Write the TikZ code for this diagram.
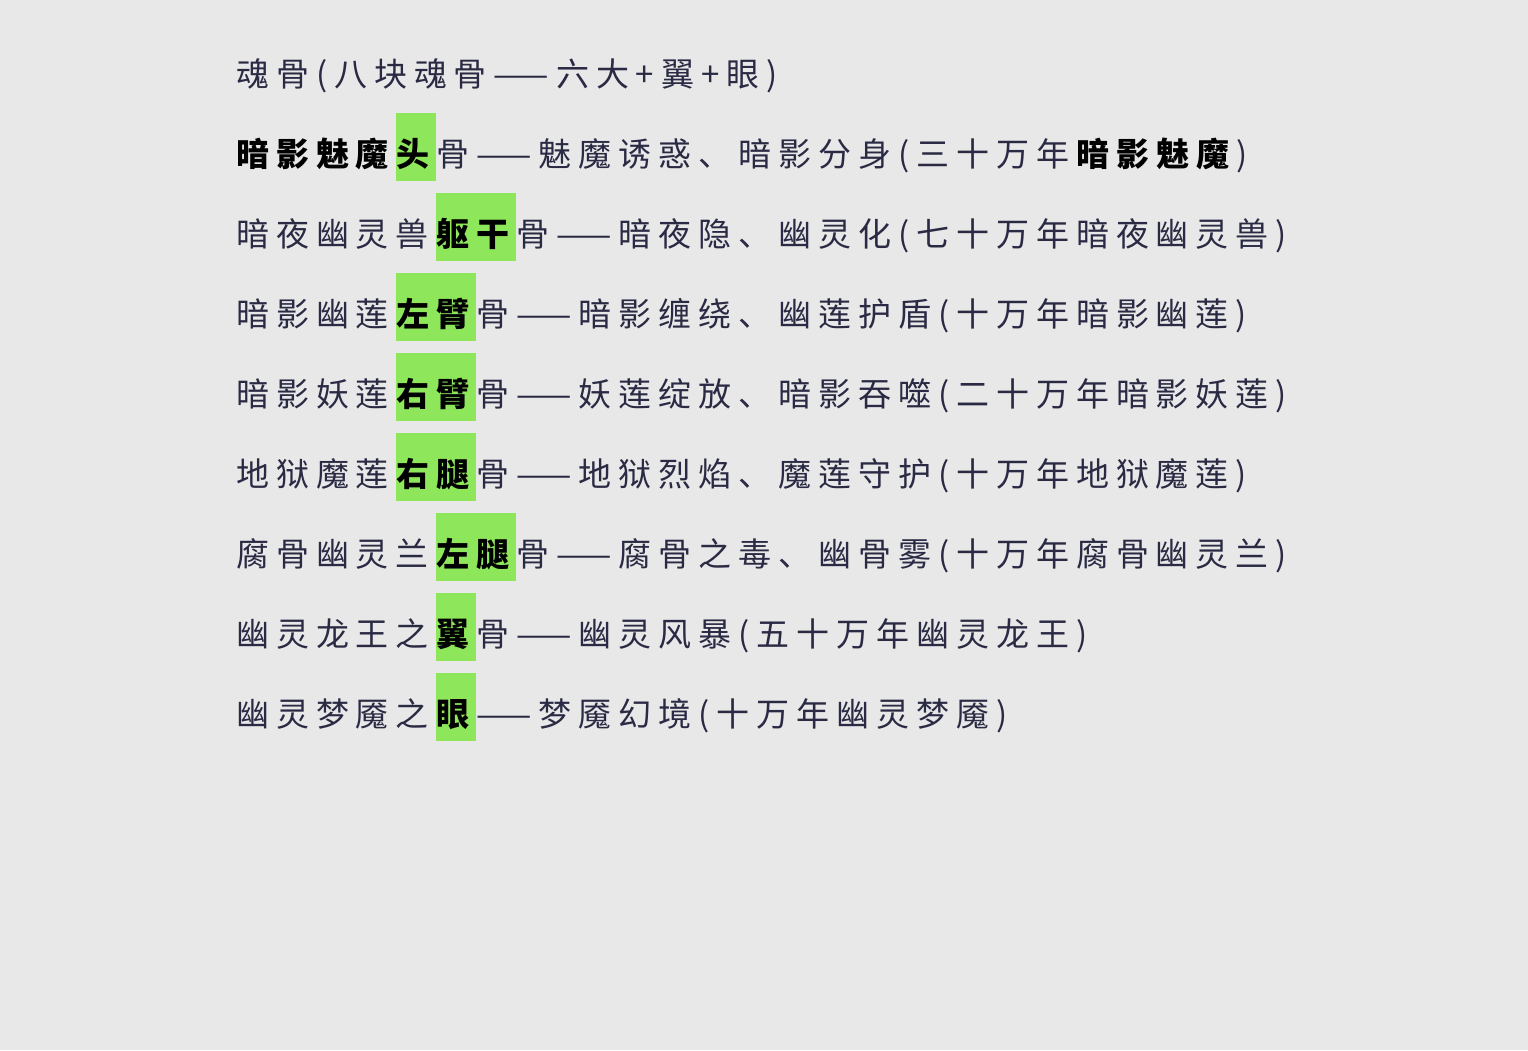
\documentclass[tikz,border=0pt]{standalone}
\usepackage{fontspec}
\setmainfont{Noto Sans CJK SC}[LetterSpace=21]
\usetikzlibrary{positioning}
\definecolor{bgcol}{HTML}{E8E8E8}
\definecolor{inkcol}{HTML}{2A2A44}
\definecolor{hlcol}{HTML}{8EE65A}
\newcommand{\gap}{\kern7pt}
\tikzset{
  txt/.style={inner sep=0pt, anchor=base west, text=inkcol, font=\fontsize{33}{40}\selectfont},
  strong/.style={txt, text=black, font=\fontsize{33}{40}\selectfont\bfseries},
  hl/.style={txt, fill=hlcol, text=black, text height=53pt, text depth=15pt, font=\fontsize{33}{40}\selectfont\bfseries}
}
\begin{document}
\begin{tikzpicture}[x=1pt,y=1pt]
  \fill[bgcol] (0,0) rectangle (1528,-1050);
  \useasboundingbox (0,0) rectangle (1528,-1050);

  % line 1
  \node[txt] (l1) at (236,-86) {魂骨(八块魂骨——六大+翼+眼)};

  % line 2
  \node[strong] (l2a) at (236,-166) {暗影魅魔\gap};
  \node[hl] (l2b) at (l2a.base east) {头\gap};
  \node[txt] (l2c) at (l2b.base east) {骨——魅魔诱惑、暗影分身(三十万年\gap};
  \node[strong] (l2d) at (l2c.base east) {暗影魅魔\gap};
  \node[txt] (l2e) at (l2d.base east) {)};

  % line 3
  \node[txt] (l3a) at (236,-246) {暗夜幽灵兽\gap};
  \node[hl] (l3b) at (l3a.base east) {躯干\gap};
  \node[txt] (l3c) at (l3b.base east) {骨——暗夜隐、幽灵化(七十万年暗夜幽灵兽)};

  % line 4
  \node[txt] (l4a) at (236,-326) {暗影幽莲\gap};
  \node[hl] (l4b) at (l4a.base east) {左臂\gap};
  \node[txt] (l4c) at (l4b.base east) {骨——暗影缠绕、幽莲护盾(十万年暗影幽莲)};

  % line 5
  \node[txt] (l5a) at (236,-406) {暗影妖莲\gap};
  \node[hl] (l5b) at (l5a.base east) {右臂\gap};
  \node[txt] (l5c) at (l5b.base east) {骨——妖莲绽放、暗影吞噬(二十万年暗影妖莲)};

  % line 6
  \node[txt] (l6a) at (236,-486) {地狱魔莲\gap};
  \node[hl] (l6b) at (l6a.base east) {右腿\gap};
  \node[txt] (l6c) at (l6b.base east) {骨——地狱烈焰、魔莲守护(十万年地狱魔莲)};

  % line 7
  \node[txt] (l7a) at (236,-566) {腐骨幽灵兰\gap};
  \node[hl] (l7b) at (l7a.base east) {左腿\gap};
  \node[txt] (l7c) at (l7b.base east) {骨——腐骨之毒、幽骨雾(十万年腐骨幽灵兰)};

  % line 8
  \node[txt] (l8a) at (236,-646) {幽灵龙王之\gap};
  \node[hl] (l8b) at (l8a.base east) {翼\gap};
  \node[txt] (l8c) at (l8b.base east) {骨——幽灵风暴(五十万年幽灵龙王)};

  % line 9
  \node[txt] (l9a) at (236,-726) {幽灵梦魇之\gap};
  \node[hl] (l9b) at (l9a.base east) {眼\gap};
  \node[txt] (l9c) at (l9b.base east) {——梦魇幻境(十万年幽灵梦魇)};
\end{tikzpicture}
\end{document}
